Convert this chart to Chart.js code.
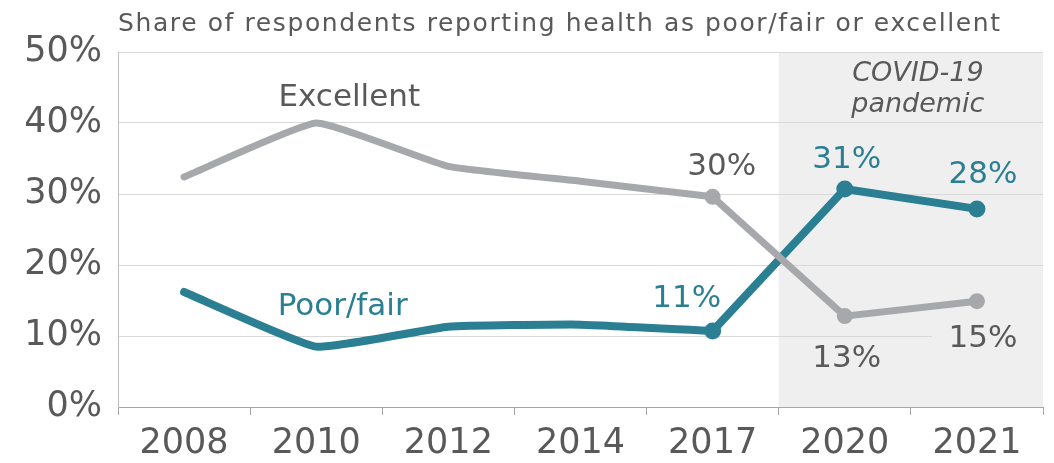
<!DOCTYPE html>
<html>
<head>
<meta charset="utf-8">
<script src="https://cdn.jsdelivr.net/npm/chart.js@4/dist/chart.umd.min.js"></script>
<style>
  html, body { margin: 0; padding: 0; background: #fff; }
  #wrap { width: 1054px; height: 463px; }
</style>
</head>
<body>
<div id="wrap"><canvas id="chart" width="1054" height="463"></canvas></div>
<script>
const years = ['2008', '2010', '2012', '2014', '2017', '2020', '2021'];
const excellent = [32.4, 40, 33.9, 31.8, 29.6, 12.8, 14.9];
const poorFair = [16.2, 8.5, 11.3, 11.6, 10.7, 30.7, 27.9];
const yTicks = [0, 10, 20, 30, 40, 50];

const grey = '#a6a8ab';
const teal = '#2b7f93';
const textGrey = '#595959';
const shade = '#efefef';
const pandemicStart = 5; // index of 2020

Chart.defaults.font.family = '"DejaVu Sans", Verdana, sans-serif';
Chart.defaults.color = textGrey;

// early years are drawn smoothed, the labelled years are drawn straight with markers
const early = arr => arr.map((v, i) => i <= 4 ? v : null);
const late = arr => arr.map((v, i) => i >= 4 ? v : null);

// text placed next to the labelled points: [series, index, dx, dy, box behind]
const pointLabels = [
  ['excellent', 4, 9, -22, false],
  ['excellent', 5, 2, 51, false],
  ['excellent', 6, 6, 46, true],
  ['poorFair', 4, -26, -24, false],
  ['poorFair', 5, 2, -21, false],
  ['poorFair', 6, 6, -26, false],
];

const annotate = {
  id: 'annotate',
  beforeDraw(chart) {
    const {ctx, chartArea, scales} = chart;
    ctx.save();
    ctx.fillStyle = '#fff';
    ctx.fillRect(0, 0, chart.width, chart.height);
    const x0 = (scales.x.getPixelForValue(pandemicStart - 1) + scales.x.getPixelForValue(pandemicStart)) / 2;
    ctx.fillStyle = shade;
    ctx.fillRect(x0, chartArea.top, chartArea.right - x0, chartArea.bottom - chartArea.top);
    ctx.restore();
  },
  beforeDatasetsDraw(chart) {
    // label boxes hide the gridline under them
    const {ctx, chartArea, scales} = chart;
    const series = {excellent, poorFair};
    ctx.save();
    ctx.fillStyle = shade;
    pointLabels.filter(p => p[4]).forEach(([name, i, dx, dy]) => {
      const v = series[name][i];
      const cx = scales.x.getPixelForValue(i) + dx;
      const by = scales.y.getPixelForValue(v) + dy;
      ctx.fillRect(cx - 51, by - 30, chartArea.right - (cx - 51), 40);
    });
    ctx.restore();
  },
  afterDatasetsDraw(chart) {
    const {ctx, chartArea, scales} = chart;
    const x = scales.x, y = scales.y;
    ctx.save();
    ctx.textBaseline = 'alphabetic';

    // title
    ctx.textAlign = 'left';
    ctx.fillStyle = textGrey;
    ctx.font = '25px "DejaVu Sans"';
    ctx.letterSpacing = '1.6px';
    ctx.fillText('Share of respondents reporting health as poor/fair or excellent', 118, 31);
    ctx.letterSpacing = '0px';

    // pandemic note
    ctx.textAlign = 'center';
    const x0 = (x.getPixelForValue(pandemicStart - 1) + x.getPixelForValue(pandemicStart)) / 2;
    const cx = (x0 + chartArea.right) / 2 + 7;
    ctx.font = 'italic 27px "DejaVu Sans"';
    ctx.fillText('COVID-19', cx, 81);
    ctx.fillText('pandemic', cx, 112);

    // series names
    ctx.font = '31px "DejaVu Sans"';
    ctx.fillStyle = textGrey;
    ctx.fillText('Excellent', x.getPixelForValue(1.25), y.getPixelForValue(42.4));
    ctx.fillStyle = teal;
    ctx.fillText('Poor/fair', x.getPixelForValue(1.2), y.getPixelForValue(13));

    // value labels
    const series = {excellent, poorFair};
    pointLabels.forEach(([name, i, dx, dy]) => {
      const v = series[name][i];
      ctx.fillStyle = name === 'excellent' ? textGrey : teal;
      ctx.fillText(Math.round(v) + '%', x.getPixelForValue(i) + dx, y.getPixelForValue(v) + dy);
    });
    ctx.restore();
  }
};

new Chart(document.getElementById('chart'), {
  type: 'line',
  data: {
    labels: years,
    datasets: [
      {
        label: 'Excellent',
        data: early(excellent),
        borderColor: grey,
        borderWidth: 7,
        tension: 0.12,
        pointRadius: 0,
        borderCapStyle: 'round',
      },
      {
        label: 'Excellent',
        data: late(excellent),
        borderColor: grey,
        backgroundColor: grey,
        borderWidth: 7,
        tension: 0,
        pointRadius: (c) => c.dataIndex >= 4 ? 8 : 0,
        pointBorderWidth: 0,
      },
      {
        label: 'Poor/fair',
        data: early(poorFair),
        borderColor: teal,
        borderWidth: 8,
        tension: 0.12,
        pointRadius: 0,
        borderCapStyle: 'round',
      },
      {
        label: 'Poor/fair',
        data: late(poorFair),
        borderColor: teal,
        backgroundColor: teal,
        borderWidth: 8,
        tension: 0,
        pointRadius: (c) => c.dataIndex >= 4 ? 8.5 : 0,
        pointBorderWidth: 0,
      },
    ]
  },
  options: {
    responsive: false,
    animation: false,
    spanGaps: false,
    layout: {padding: {top: 52, right: 11, left: 0, bottom: 0}},
    plugins: {
      legend: {display: false},
      title: {display: false},
      tooltip: {enabled: false},
    },
    scales: {
      x: {
        offset: true,
        afterFit: (s) => { s.height = 56; },
        grid: {
          offset: true,
          drawOnChartArea: false,
          drawTicks: true,
          tickLength: 8,
          color: '#a6a6a6',
        },
        border: {color: '#a6a6a6', width: 1},
        ticks: {
          font: {size: 35},
          color: textGrey,
          padding: 8,
          maxRotation: 0,
        },
      },
      y: {
        min: 0,
        max: 50,
        afterFit: (s) => { s.width = 118; },
        afterBuildTicks: (s) => { s.ticks = yTicks.map(v => ({value: v})); },
        grid: {color: '#d9d9d9', drawTicks: false},
        border: {color: '#bfbfbf', width: 1},
        ticks: {
          font: {size: 35},
          color: textGrey,
          padding: 16,
          callback: (v) => v + '%',
        },
      },
    },
  },
  plugins: [annotate],
});
</script>
</body>
</html>
